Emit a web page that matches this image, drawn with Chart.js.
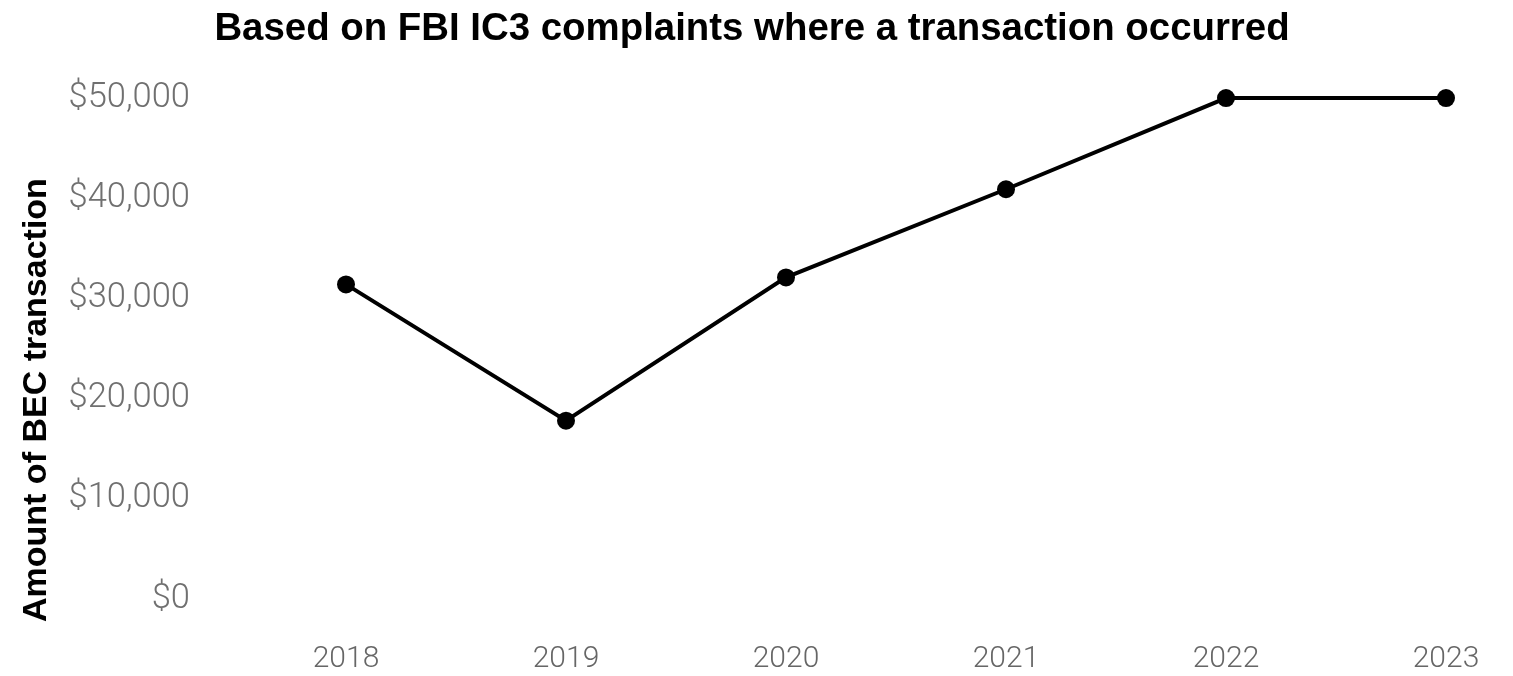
<!DOCTYPE html>
<html>
<head>
<meta charset="utf-8">
<title>Median BEC transaction amount</title>
<script src="https://cdn.jsdelivr.net/npm/chart.js@4.4.1/dist/chart.umd.min.js"></script>
<style>
  html, body { margin: 0; padding: 0; background: #ffffff; }
  #wrap { width: 1513px; height: 676px; position: relative; }
</style>
</head>
<body>
<div id="wrap"><canvas id="chart"></canvas></div>
<script>
// Data
const years = ['2018', '2019', '2020', '2021', '2022', '2023'];
const becAmounts = [31400, 17800, 32100, 40900, 50000, 50000];
const yTickValues = [0, 10000, 20000, 30000, 40000, 50000];
const chartTitle = 'Based on FBI IC3 complaints where a transaction occurred';
const yAxisTitle = 'Amount of BEC transaction';

const money = v => '$' + v.toLocaleString('en-US');
const tickFont = size => ({ family: 'Roboto, "Liberation Sans", sans-serif', size: size, weight: '300' });
const boldFont = size => ({ family: '"Liberation Sans", Arial, sans-serif', size: size, weight: 'bold' });

new Chart(document.getElementById('chart'), {
  type: 'line',
  data: {
    labels: years,
    datasets: [{
      data: becAmounts,
      borderColor: '#000000',
      backgroundColor: '#000000',
      borderWidth: 4,
      pointRadius: 9,
      pointHoverRadius: 9,
      pointBackgroundColor: '#000000',
      pointBorderColor: '#000000',
      pointBorderWidth: 0,
      tension: 0,
      clip: false
    }]
  },
  options: {
    responsive: true,
    maintainAspectRatio: false,
    animation: false,
    layout: { padding: { left: 0, right: 9, top: 0, bottom: 0 } },
    plugins: {
      legend: { display: false },
      tooltip: { enabled: false },
      title: {
        display: true,
        text: chartTitle,
        color: '#000000',
        font: boldFont(38.4),
        padding: { top: 6, bottom: 46 }
      }
    },
    scales: {
      x: {
        offset: false,
        grid: { display: false, drawTicks: false },
        border: { display: false },
        afterFit: scale => {
          scale.height = 54;
          scale.paddingRight = 67;
        },
        ticks: {
          color: '#666666',
          padding: 19,
          maxRotation: 0,
          font: tickFont(30)
        }
      },
      y: {
        min: -2300,
        max: yTickValues[yTickValues.length - 1],
        grid: { display: false, drawTicks: false },
        border: { display: false },
        afterBuildTicks: scale => {
          scale.ticks = yTickValues.map(v => ({ value: v }));
        },
        afterFit: scale => {
          scale.width = 346;
          scale.paddingTop = 20;
          scale.paddingBottom = 0;
        },
        ticks: {
          color: '#707070',
          padding: 156,
          callback: v => money(v),
          font: tickFont(34.5)
        },
        title: {
          display: true,
          text: yAxisTitle,
          align: 'start',
          color: '#000000',
          padding: { top: 16, bottom: 0 },
          font: boldFont(34)
        }
      }
    }
  }
});
</script>
</body>
</html>
